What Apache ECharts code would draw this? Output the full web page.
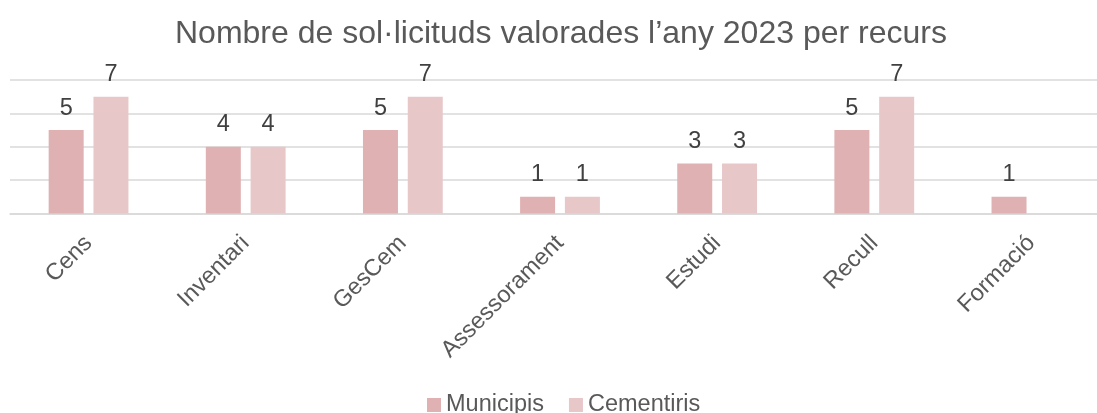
<!DOCTYPE html>
<html>
<head>
<meta charset="utf-8">
<script src="https://cdn.jsdelivr.net/npm/echarts@6/dist/echarts.min.js"></script>
<style>
  html, body { margin: 0; padding: 0; background: #fff; overflow: hidden; }
  /* el gràfic original continua una mica més enllà de la vora dreta */
  #chart { width: 1112px; height: 413px; }
</style>
</head>
<body>
<div id="chart"></div>
<script>
// dades
var recursos = ['Cens', 'Inventari', 'GesCem', 'Assessorament', 'Estudi', 'Recull', 'Formació']
var municipis = [5, 4, 5, 1, 3, 5, 1]
var cementiris = [7, 4, 7, 1, 3, 7, null]

var font = "'Liberation Sans', Arial, sans-serif"
var myChart = echarts.init(document.getElementById('chart'))

var labelTop = {
  show: true,
  position: 'top',
  distance: 10,
  color: '#404040',
  fontFamily: font,
  fontSize: 23.5
}

myChart.setOption({
  animation: false,
  title: {
    text: 'Nombre de sol·licituds valorades l’any 2023 per recurs',
    left: 170,
    top: 13,
    textStyle: {
      color: '#595959',
      fontFamily: font,
      fontSize: 32,
      fontWeight: 'normal'
    }
  },
  legend: {
    data: ['Municipis', 'Cementiris'],
    left: 422,
    top: 388,
    icon: 'rect',
    itemWidth: 14,
    itemHeight: 14,
    itemGap: 25,
    textStyle: {
      color: '#595959',
      fontFamily: font,
      fontSize: 23.5
    }
  },
  grid: {
    left: 10,
    top: 80,
    width: 1100,
    height: 133.5
  },
  xAxis: {
    type: 'category',
    data: recursos,
    axisLine: { lineStyle: { color: '#d9d9d9', width: 1.5 } },
    axisTick: { show: false },
    axisLabel: {
      interval: 0,
      rotate: 45,
      margin: 26,
      color: '#595959',
      fontFamily: font,
      fontSize: 23.5
    }
  },
  yAxis: {
    type: 'value',
    min: 0,
    max: 8,
    interval: 2,
    axisLabel: { show: false },
    axisLine: { show: false },
    axisTick: { show: false },
    splitLine: { lineStyle: { color: '#d9d9d9', width: 1.5 } }
  },
  series: [
    {
      name: 'Municipis',
      type: 'bar',
      data: municipis,
      barWidth: 35,
      barGap: '28%',
      itemStyle: { color: '#dfb1b2' },
      label: labelTop
    },
    {
      name: 'Cementiris',
      type: 'bar',
      data: cementiris,
      barWidth: 35,
      barGap: '28%',
      itemStyle: { color: '#e8c7c9' },
      label: labelTop
    }
  ]
})
</script>
</body>
</html>
